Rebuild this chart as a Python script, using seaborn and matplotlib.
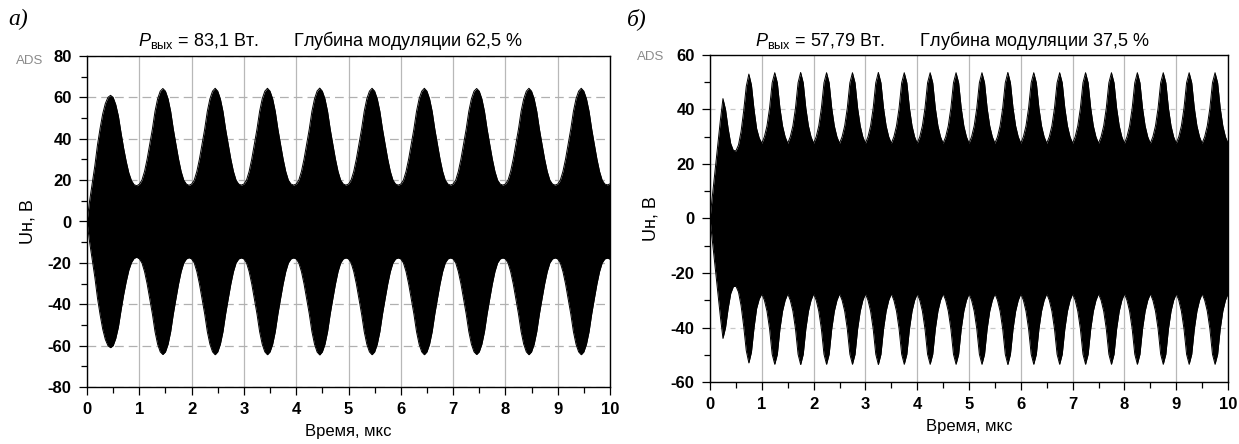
import numpy as np
import pandas as pd
import matplotlib
matplotlib.use('Agg')
import matplotlib.pyplot as plt
import seaborn as sns
from matplotlib.ticker import MultipleLocator

# time grid, mks (step 0.05)
time_us = np.linspace(0, 10, 201)

# a) upper envelope of Uн, B (20 points per mks)
env_a = [
    0.0, 10.0, 18.5, 27.0, 37.0, 45.0, 52.0, 57.0, 60.0, 61.0, 60.0, 56.5, 51.0, 43.0, 35.5, 29.0, 23.5, 19.8, 17.8, 17.3,
    18.0, 20.0, 24.2, 30.2, 37.3, 44.7, 53.2, 59.3, 63.0, 64.3, 63.0, 59.3, 53.2, 44.7, 37.3, 30.2, 24.2, 20.0, 18.1, 17.5,
    18.1, 20.0, 24.2, 30.2, 37.3, 44.7, 53.2, 59.3, 63.0, 64.4, 63.0, 59.3, 53.2, 44.7, 37.3, 30.2, 24.2, 20.0, 18.1, 17.6,
    18.1, 20.0, 24.2, 30.2, 37.3, 44.7, 53.2, 59.3, 63.0, 64.4, 63.0, 59.3, 53.2, 44.7, 37.3, 30.2, 24.2, 20.0, 18.1, 17.6,
    18.1, 20.0, 24.2, 30.2, 37.3, 44.7, 53.2, 59.3, 63.1, 64.5, 63.0, 59.3, 53.2, 44.7, 37.3, 30.2, 24.2, 20.0, 18.1, 17.6,
    18.1, 20.0, 24.2, 30.2, 37.3, 44.7, 53.2, 59.3, 63.0, 64.4, 63.0, 59.3, 53.2, 44.7, 37.3, 30.2, 24.2, 20.0, 18.1, 17.6,
    18.1, 20.0, 24.2, 30.2, 37.3, 44.7, 53.2, 59.3, 63.0, 64.4, 63.0, 59.3, 53.2, 44.7, 37.3, 30.2, 24.2, 20.0, 18.1, 17.6,
    18.1, 20.0, 24.2, 30.2, 37.3, 44.7, 53.2, 59.3, 63.0, 64.3, 63.0, 59.3, 53.2, 44.7, 37.3, 30.2, 24.2, 20.0, 18.1, 17.6,
    18.1, 20.0, 24.2, 30.2, 37.3, 44.7, 53.2, 59.3, 63.0, 64.4, 63.0, 59.3, 53.2, 44.7, 37.3, 30.2, 24.2, 20.0, 18.1, 17.6,
    18.1, 20.0, 24.2, 30.2, 37.3, 44.7, 53.2, 59.3, 63.0, 64.4, 63.0, 59.3, 53.2, 44.7, 37.3, 30.2, 24.2, 20.0, 18.1, 17.7,
    18.2,
]

# б) upper envelope of Uн, B
env_b = [
    0.0, 9.0, 18.0, 27.0, 36.0, 44.0, 40.0, 33.0, 27.5, 25.0, 24.8, 27.0, 32.0, 39.5, 48.5, 53.0, 49.0, 40.0, 33.0, 29.5,
    27.6, 30.0, 34.0, 40.5, 49.8, 53.5, 49.8, 40.5, 34.0, 30.0, 27.6, 30.0, 34.0, 40.5, 49.8, 53.6, 49.8, 40.5, 34.0, 30.0,
    27.6, 30.0, 34.0, 40.5, 49.8, 53.5, 49.8, 40.5, 34.0, 30.0, 27.6, 30.0, 34.0, 40.5, 49.8, 53.5, 49.8, 40.5, 34.0, 30.0,
    27.6, 30.0, 34.0, 40.5, 49.8, 53.6, 49.8, 40.5, 34.0, 30.0, 27.6, 30.0, 34.0, 40.5, 49.8, 53.5, 49.8, 40.5, 34.0, 30.0,
    27.6, 30.0, 34.0, 40.5, 49.8, 53.5, 49.8, 40.5, 34.0, 30.0, 27.6, 30.0, 34.0, 40.5, 49.8, 53.5, 49.8, 40.5, 34.0, 30.0,
    27.6, 30.0, 34.0, 40.5, 49.8, 53.5, 49.8, 40.5, 34.0, 30.0, 27.6, 30.0, 34.0, 40.5, 49.8, 53.6, 49.8, 40.5, 34.0, 30.0,
    27.6, 30.0, 34.0, 40.5, 49.8, 53.5, 49.8, 40.5, 34.0, 30.0, 27.6, 30.0, 34.0, 40.5, 49.8, 53.5, 49.8, 40.5, 34.0, 30.0,
    27.6, 30.0, 34.0, 40.5, 49.8, 53.5, 49.8, 40.5, 34.0, 30.0, 27.6, 30.0, 34.0, 40.5, 49.8, 53.5, 49.8, 40.5, 34.0, 30.0,
    27.6, 30.0, 34.0, 40.5, 49.8, 53.5, 49.8, 40.5, 34.0, 30.0, 27.6, 30.0, 34.0, 40.5, 49.8, 53.5, 49.8, 40.5, 34.0, 30.0,
    27.6, 30.0, 34.0, 40.5, 49.8, 53.5, 49.8, 40.5, 34.0, 30.0, 27.6, 30.0, 34.0, 40.5, 49.8, 53.5, 49.8, 40.5, 34.0, 30.0,
    27.6,
]

title_a = r'$P_{\mathrm{вых}}$ = 83,1 Вт.       Глубина модуляции 62,5 %'
title_b = r'$P_{\mathrm{вых}}$ = 57,79 Вт.       Глубина модуляции 37,5 %'

sns.set_style('ticks')
plt.rcParams['font.family'] = ['Liberation Sans', 'DejaVu Sans']
plt.rcParams['mathtext.fontset'] = 'custom'
plt.rcParams['mathtext.rm'] = 'Liberation Sans'
plt.rcParams['mathtext.it'] = 'Liberation Sans:italic'
plt.rcParams['axes.unicode_minus'] = False
plt.rcParams['text.color'] = 'black'
plt.rcParams['axes.labelcolor'] = 'black'
plt.rcParams['xtick.color'] = 'black'
plt.rcParams['ytick.color'] = 'black'

fig = plt.figure(figsize=(12.39, 4.44), dpi=100)
ax1 = fig.add_axes([87/1239, 1-387/444, 523/1239, 331/444])
ax2 = fig.add_axes([710/1239, 1-382/444, 518/1239, 327/444])


def draw(ax, env, ylim, dash, gcol):
    df = pd.DataFrame({'t': time_us, 'up': env})
    df['lo'] = -df['up']  # lower envelope mirrors the upper one
    ax.set_axisbelow(True)
    ax.grid(axis='x', color='#b8b8b8', lw=0.9, ls='-')
    ax.grid(axis='y', color=gcol, lw=0.9, ls=(0, dash))
    ax.fill_between(df['t'], df['lo'], df['up'], color='black', lw=0, zorder=2)
    sns.lineplot(data=df, x='t', y='up', ax=ax, color='black', lw=0.7, zorder=3)
    sns.lineplot(data=df, x='t', y='lo', ax=ax, color='black', lw=0.7, zorder=3)
    ax.set_xlim(0, 10)
    ax.set_ylim(-ylim, ylim)
    ax.xaxis.set_major_locator(MultipleLocator(1))
    ax.xaxis.set_minor_locator(MultipleLocator(0.5))
    ax.yaxis.set_major_locator(MultipleLocator(20))
    ax.yaxis.set_minor_locator(MultipleLocator(10))
    ax.tick_params(which='both', direction='out', color='black', width=0.9)
    ax.tick_params(which='major', length=6, labelsize=12, pad=5)
    ax.tick_params(which='minor', length=4)
    for lab in ax.get_xticklabels() + ax.get_yticklabels():
        lab.set_fontweight('bold')
    for s in ax.spines.values():
        s.set_color('black')
        s.set_linewidth(1.0)
    ax.set_xlabel('Время, мкс', fontsize=12, labelpad=5)
    ax.set_ylabel('Uн, В', fontsize=13, labelpad=8)


draw(ax1, env_a, 80, (7, 4), '#b0b0b0')
draw(ax2, env_b, 60, (4, 4), '#c8c8c8')

fig.text(330/1239, 1-40/444, title_a, ha='center', va='center', fontsize=13)
fig.text(952/1239, 1-40/444, title_b, ha='center', va='center', fontsize=13)

fig.text(8/1239, 1-19/444, 'а)', ha='left', va='center', fontsize=17,
         family='Liberation Serif', style='italic')
fig.text(627/1239, 1-19/444, 'б)', ha='left', va='center', fontsize=17,
         family='Liberation Serif', style='italic')

fig.text(16/1239, 1-61/444, 'ADS', color='#8a8a8a', fontsize=9.5, va='center')
fig.text(637/1239, 1-57/444, 'ADS', color='#8a8a8a', fontsize=9.5, va='center')

fig.savefig('out.png', dpi=100)
